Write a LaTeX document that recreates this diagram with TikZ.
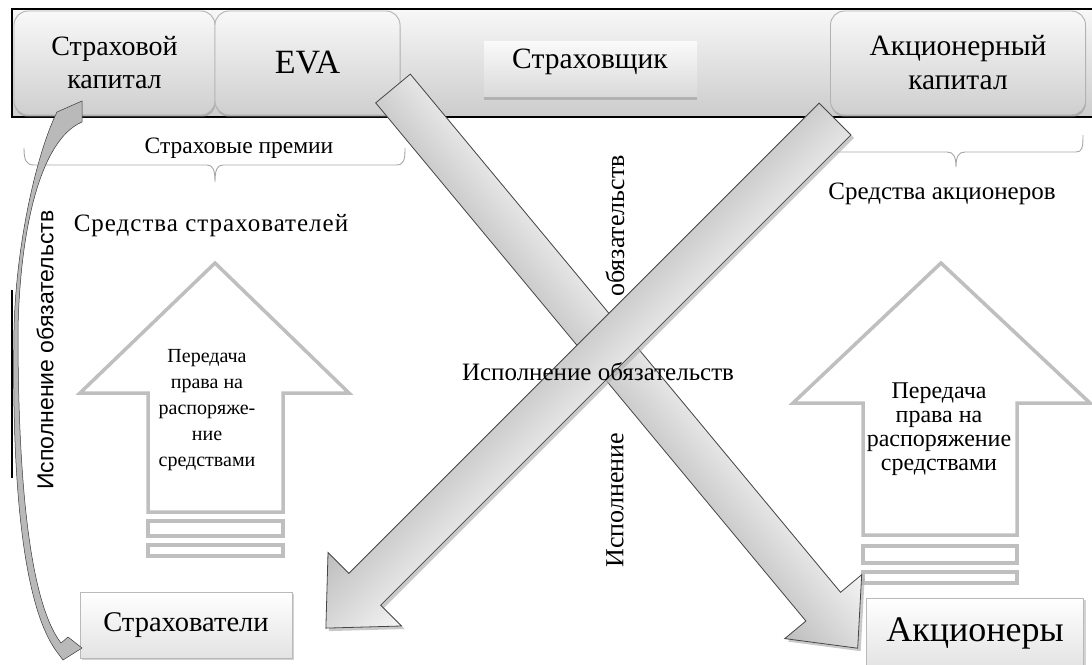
\documentclass[tikz,border=0pt]{standalone}
\usepackage{fontspec}
\setmainfont{Liberation Serif}
\newfontfamily\sansf{Liberation Sans}
\usetikzlibrary{shadows}
\newcommand\fsz[2]{\fontsize{#1}{#2}\selectfont}
\begin{document}
\begin{tikzpicture}[x=1pt,y=-1pt,
  capbox/.style={draw=gray!60, line width=0.9pt, rounded corners=14pt, top color=gray!5, bottom color=gray!38, inner sep=0pt, align=center, font=\fsz{28}{33},
     drop shadow={shadow xshift=0.5pt, shadow yshift=-2pt, opacity=0.45}},
  lowbox/.style={draw=gray!55, line width=0.9pt, top color=white, bottom color=gray!22, inner sep=0pt,
     drop shadow={shadow xshift=2pt, shadow yshift=-2pt, opacity=0.35}},
  uparr/.style={draw=gray!50, line width=3.5pt, fill=white, line join=miter},
  brace/.style={draw=gray!70, line width=0.9pt},
  lbl/.style={inner sep=0pt, align=center},
  bigarr/.style={draw=gray!55!black, line width=0.8pt, top color=gray!8, bottom color=gray!52},
  arrshadow/.style={fill=gray!60, draw=none, opacity=0.7},
]
\useasboundingbox (0,0) rectangle (1092,664);

% top bar
\path[top color=gray!6, bottom color=gray!40] (12,9) rectangle (1092,117);
\draw[black, line width=1.4pt] (1092,9) -- (12,9) -- (12,117) -- (1092,117);

\node[capbox, minimum width=201pt, minimum height=104pt] (sk) at (114.5,63) {Страховой\\капитал};
\node[capbox, minimum width=185pt, minimum height=104pt, font=\fsz{34}{38}] (eva) at (307.5,63) {EVA};
\node[capbox, minimum width=255pt, minimum height=104pt, font=\fsz{29.5}{34}] (ak) at (958,63) {Акционерный\\капитал};
\node[inner sep=0pt, top color=gray!4, bottom color=gray!30, minimum width=213pt, minimum height=57pt] (ins) at (590.5,69.5) {};
\draw[gray!60, line width=3pt] (ins.south west) -- (ins.south east);
\node[lbl, font=\fsz{29.5}{34}] (inst) at (590,62) {Страховщик};

% braces and labels
\node[lbl, font=\fsz{23.5}{28}] (sp) at (239,148) {Страховые премии};
\draw[brace] (24,148) .. controls (24,160) and (26,165) .. (34,165) -- (207,165)
   .. controls (213,165) and (215,170) .. (215,182) .. controls (215,170) and (217,165) .. (223,165)
   -- (396,165) .. controls (404,165) and (405,160) .. (405,148);
\node[lbl, font=\fsz{25}{30}\addfontfeatures{LetterSpace=4}] (ss) at (211,226) {Средства страхователей};

\draw[brace] (830,152) -- (947,152) .. controls (953,152) and (956,156) .. (956,167)
   .. controls (956,156) and (959,152) .. (965,152) -- (1076,152)
   .. controls (1082,152) and (1083,148) .. (1083,135);
\node[lbl, font=\fsz{25}{30}] (sa) at (942,194) {Средства акционеров};

% up arrows
\draw[uparr] (215,263) -- (349,393) -- (283,393) -- (283,512) -- (148,512) -- (148,393) -- (80,393) -- cycle;
\draw[uparr] (148,521) rectangle (283,536);
\draw[uparr] (148,545) rectangle (283,556);
\node[lbl, font=\fsz{20}{26}] (t1) at (207,410) {Передача\\права на\\распоряже-\\ние\\средствами};

\draw[uparr] (941,263) -- (1090,403) -- (1017,403) -- (1017,535) -- (863,535) -- (863,403) -- (793,403) -- cycle;
\draw[uparr] (863,546) rectangle (1017,563);
\draw[uparr] (863,572) rectangle (1017,583);
\node[lbl, font=\fsz{24}{24}] (t2) at (939,429) {Передача\\права на\\распоряжение\\средствами};

% bottom boxes
\node[lowbox, minimum width=212pt, minimum height=66pt, font=\fsz{28.5}{32}] (str) at (186,625) {Страхователи};
\node[lowbox, minimum width=217pt, minimum height=70pt, font=\fsz{36}{40}] (akc) at (975,633) {Акционеры};

% diagonal arrow 1 (to shareholders)
\begin{scope}[transform canvas={shift={(396,91.5)}, rotate=-50.3}]
  \path[arrshadow] (0,-22.5) -- (673.5,-22.5) -- (673.5,-50) -- (727.5,0) -- (673.5,50) -- (673.5,22.5) -- (0,22.5) -- cycle;
\end{scope}
\begin{scope}[transform canvas={shift={(393,88.5)}, rotate=-50.3}]
  \path[bigarr] (0,-22.5) -- (673.5,-22.5) -- (673.5,-50) -- (727.5,0) -- (673.5,50) -- (673.5,22.5) -- (0,22.5) -- cycle;
\end{scope}
% diagonal arrow 2 (to policyholders)
\begin{scope}[transform canvas={shift={(838,122)}, rotate=-135}]
  \path[arrshadow] (0,-22.5) -- (665,-22.5) -- (665,-52) -- (720,0) -- (665,52) -- (665,22.5) -- (0,22.5) -- cycle;
\end{scope}
\begin{scope}[transform canvas={shift={(835,119)}, rotate=-135}]
  \path[bigarr] (0,-22.5) -- (665,-22.5) -- (665,-52) -- (720,0) -- (665,52) -- (665,22.5) -- (0,22.5) -- cycle;
\end{scope}

% central labels
\node[lbl, font=\fsz{25}{30}] (ie) at (598,372) {Исполнение обязательств};
\node[lbl, font=\fsz{26}{28}, rotate=90] (ob) at (615,226) {обязательств};
\node[lbl, font=\fsz{26}{28}, rotate=90] (isp) at (615,500) {Исполнение};

% left vertical label and line
\node[lbl, font=\sansf\fsz{23}{27}, rotate=90] (lv) at (45,350) {Исполнение обязательств};
\draw[black, line width=1.5pt] (12,290) -- (12,478);

% curved arrow
\path[fill=gray!55, draw=gray!45!black, line width=0.5pt]
  (57,112) .. controls (38,150) and (16,240) .. (14,330)
  .. controls (12,450) and (18,600) .. (57,652)
  -- (63,660) -- (82,648) -- (68,637) -- (61,643)
  .. controls (28,600) and (18,470) .. (18,330)
  .. controls (20,230) and (40,140) .. (82,122) -- (82,101) -- cycle;
\end{tikzpicture}
\end{document}
